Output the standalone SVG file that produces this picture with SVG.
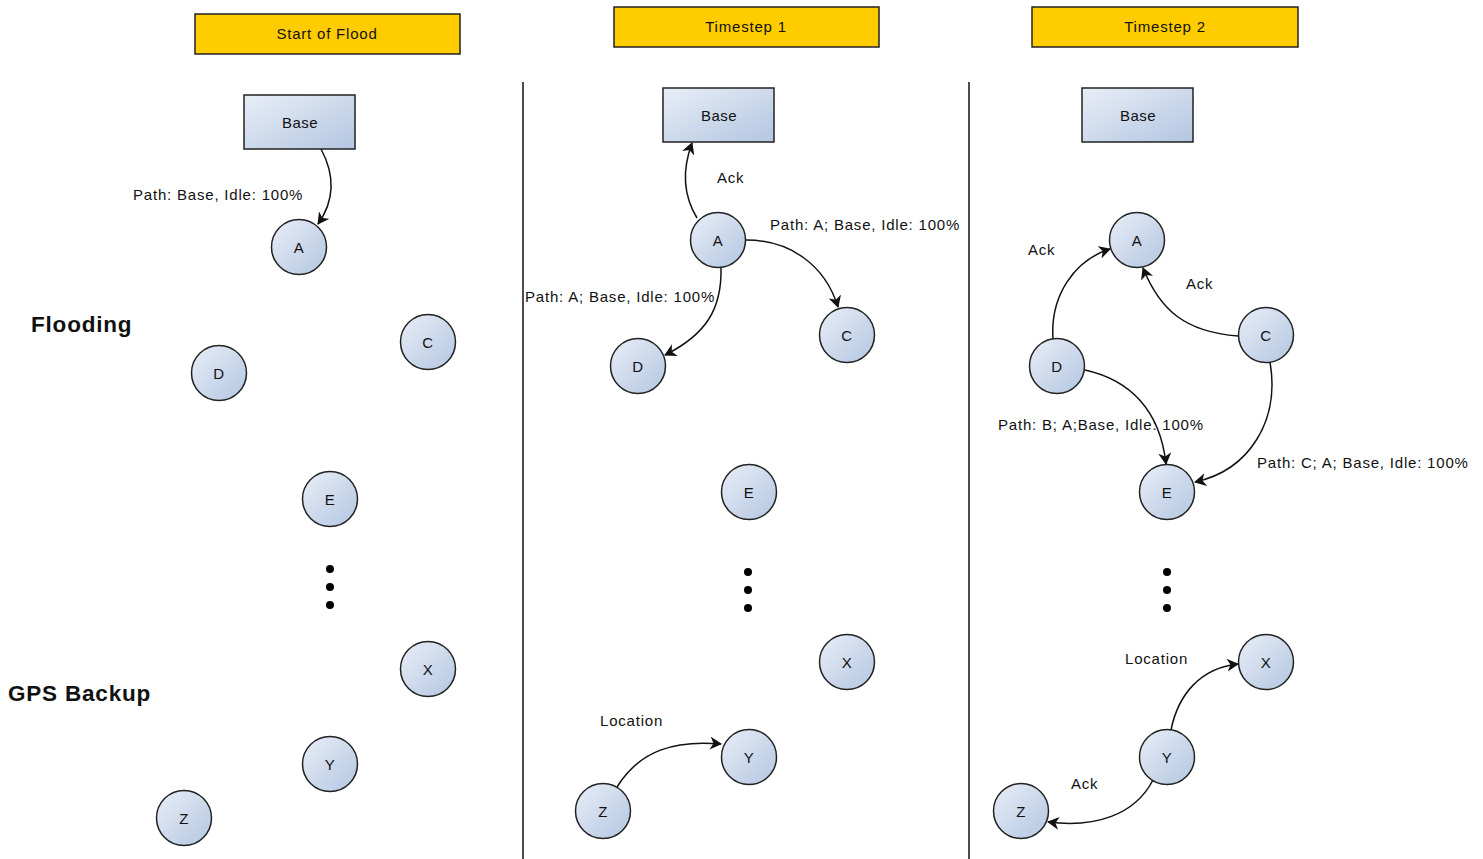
<svg xmlns="http://www.w3.org/2000/svg" width="1483" height="859" viewBox="0 0 1483 859">
<style>
text{font-family:"Liberation Sans",Arial,sans-serif;fill:#111}
.hdr{fill:#FFCC00;stroke:#222;stroke-width:1.5}
.nd{fill:url(#g);stroke:#222;stroke-width:1.5}
.lbl{font-size:15px;letter-spacing:0.8px}
.nl{font-size:15px;text-anchor:middle;dominant-baseline:central;letter-spacing:0.5px}
.big{font-size:22.5px;font-weight:bold;letter-spacing:0.8px}
.e{fill:none;stroke:#111;stroke-width:1.5;marker-end:url(#ah)}
.sep{stroke:#111;stroke-width:1.5}
</style>
<defs>
<linearGradient id="g" x1="0" y1="0" x2="1" y2="1">
<stop offset="0" stop-color="#E9EEF7"/>
<stop offset="1" stop-color="#B3C6E1"/>
</linearGradient>
<marker id="ah" markerWidth="13" markerHeight="13" refX="11" refY="6.5" orient="auto" markerUnits="userSpaceOnUse">
<path d="M0,0 L12,6.5 L0,13 L3.5,6.5 Z" fill="#111"/>
</marker>
</defs>

<g id="headers">
<g id="h1"><rect class="hdr" x="195" y="14" width="265" height="40"/><text x="327" y="39" class="lbl" text-anchor="middle">Start of Flood</text></g>
<g id="h2"><rect class="hdr" x="614" y="7" width="265" height="40"/><text x="746" y="32" class="lbl" text-anchor="middle">Timestep 1</text></g>
<g id="h3"><rect class="hdr" x="1032" y="7" width="266" height="40"/><text x="1165" y="32" class="lbl" text-anchor="middle">Timestep 2</text></g>
</g>

<g id="separators">
<line class="sep" x1="523" y1="82" x2="523" y2="859"/>
<line class="sep" x1="969" y1="82" x2="969" y2="859"/>
</g>

<text x="31" y="332" class="big">Flooding</text>
<text x="8" y="701" class="big">GPS Backup</text>

<g id="connectors">
<path class="e" d="M321,149 C335,175 335,200 318,224"/>
<path class="e" d="M697,218 C683,195 682,170 692,143"/>
<path class="e" d="M746,240 C790,240 825,265 838,307"/>
<path class="e" d="M721,268 C722,310 705,335 665,355"/>
<path class="e" d="M617,787 C640,750 675,740 721,744"/>
<path class="e" d="M1053,339 C1050,295 1075,260 1110,249"/>
<path class="e" d="M1238,336 C1185,332 1160,310 1143,268"/>
<path class="e" d="M1085,370 C1130,380 1160,410 1166,464"/>
<path class="e" d="M1270,362 C1280,420 1250,470 1195,482"/>
<path class="e" d="M1171,730 C1178,695 1200,668 1238,664"/>
<path class="e" d="M1153,780 C1135,815 1095,828 1048,822"/>
</g>

<g id="edge-labels" class="lbl">
<text x="133" y="200">Path: Base, Idle: 100%</text>
<text x="717" y="183">Ack</text>
<text x="770" y="230">Path: A; Base, Idle: 100%</text>
<text x="525" y="302">Path: A; Base, Idle: 100%</text>
<text x="600" y="726">Location</text>
<text x="1028" y="255">Ack</text>
<text x="1186" y="289">Ack</text>
<text x="998" y="430">Path: B; A;Base, Idle: 100%</text>
<text x="1257" y="468">Path: C; A; Base, Idle: 100%</text>
<text x="1125" y="664">Location</text>
<text x="1071" y="789">Ack</text>
</g>

<g id="p1">
<g id="p1-base"><rect class="nd" x="244" y="95" width="111" height="54"/><text x="300" y="122" class="nl">Base</text></g>
<g id="p1-A"><circle class="nd" cx="299" cy="247" r="27.5"/><text x="299" y="247" class="nl">A</text></g>
<g id="p1-C"><circle class="nd" cx="428" cy="342" r="27.5"/><text x="428" y="342" class="nl">C</text></g>
<g id="p1-D"><circle class="nd" cx="219" cy="373" r="27.5"/><text x="219" y="373" class="nl">D</text></g>
<g id="p1-E"><circle class="nd" cx="330" cy="499" r="27.5"/><text x="330" y="499" class="nl">E</text></g>
<g id="p1-X"><circle class="nd" cx="428" cy="669" r="27.5"/><text x="428" y="669" class="nl">X</text></g>
<g id="p1-Y"><circle class="nd" cx="330" cy="764" r="27.5"/><text x="330" y="764" class="nl">Y</text></g>
<g id="p1-Z"><circle class="nd" cx="184" cy="818" r="27.5"/><text x="184" y="818" class="nl">Z</text></g>
<g id="p1-dots"><circle cx="330" cy="569" r="4" fill="#000"/><circle cx="330" cy="587" r="4" fill="#000"/><circle cx="330" cy="605" r="4" fill="#000"/></g>
</g>

<g id="p2">
<g id="p2-base"><rect class="nd" x="663" y="88" width="111" height="54"/><text x="719" y="115" class="nl">Base</text></g>
<g id="p2-A"><circle class="nd" cx="718" cy="240" r="27.5"/><text x="718" y="240" class="nl">A</text></g>
<g id="p2-C"><circle class="nd" cx="847" cy="335" r="27.5"/><text x="847" y="335" class="nl">C</text></g>
<g id="p2-D"><circle class="nd" cx="638" cy="366" r="27.5"/><text x="638" y="366" class="nl">D</text></g>
<g id="p2-E"><circle class="nd" cx="749" cy="492" r="27.5"/><text x="749" y="492" class="nl">E</text></g>
<g id="p2-X"><circle class="nd" cx="847" cy="662" r="27.5"/><text x="847" y="662" class="nl">X</text></g>
<g id="p2-Y"><circle class="nd" cx="749" cy="757" r="27.5"/><text x="749" y="757" class="nl">Y</text></g>
<g id="p2-Z"><circle class="nd" cx="603" cy="811" r="27.5"/><text x="603" y="811" class="nl">Z</text></g>
<g id="p2-dots"><circle cx="748" cy="572" r="4" fill="#000"/><circle cx="748" cy="590" r="4" fill="#000"/><circle cx="748" cy="608" r="4" fill="#000"/></g>
</g>

<g id="p3">
<g id="p3-base"><rect class="nd" x="1082" y="88" width="111" height="54"/><text x="1138" y="115" class="nl">Base</text></g>
<g id="p3-A"><circle class="nd" cx="1137" cy="240" r="27.5"/><text x="1137" y="240" class="nl">A</text></g>
<g id="p3-C"><circle class="nd" cx="1266" cy="335" r="27.5"/><text x="1266" y="335" class="nl">C</text></g>
<g id="p3-D"><circle class="nd" cx="1057" cy="366" r="27.5"/><text x="1057" y="366" class="nl">D</text></g>
<g id="p3-E"><circle class="nd" cx="1167" cy="492" r="27.5"/><text x="1167" y="492" class="nl">E</text></g>
<g id="p3-X"><circle class="nd" cx="1266" cy="662" r="27.5"/><text x="1266" y="662" class="nl">X</text></g>
<g id="p3-Y"><circle class="nd" cx="1167" cy="757" r="27.5"/><text x="1167" y="757" class="nl">Y</text></g>
<g id="p3-Z"><circle class="nd" cx="1021" cy="811" r="27.5"/><text x="1021" y="811" class="nl">Z</text></g>
<g id="p3-dots"><circle cx="1167" cy="572" r="4" fill="#000"/><circle cx="1167" cy="590" r="4" fill="#000"/><circle cx="1167" cy="608" r="4" fill="#000"/></g>
</g>
</svg>
